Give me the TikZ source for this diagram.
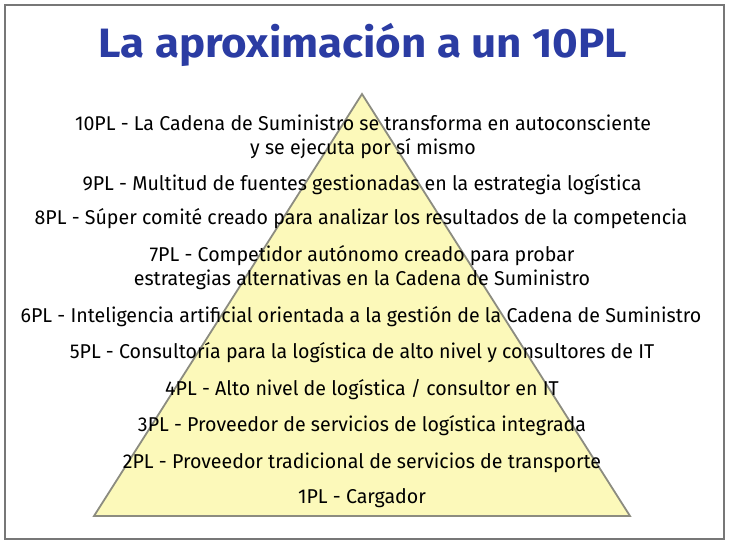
\documentclass[tikz,border=0pt]{standalone}
\usepackage{fontspec}
\usepackage{xcolor}
\setmainfont{Fira Sans}[FakeStretch=0.98]
\newfontfamily\titlefont{Fira Sans}[FakeStretch=1.07,UprightFont=* Bold]
\definecolor{titleblue}{HTML}{2B3CA3}
\definecolor{pyramidfill}{HTML}{FCF9BA}
\definecolor{pyramidline}{HTML}{8C8C80}
\definecolor{framegray}{HTML}{777777}

\tikzset{
  level/.style = {align = center, inner sep = 0pt, font = \fontsize{20}{24}\selectfont},
}

\begin{document}
\begin{tikzpicture}
        \useasboundingbox (0pt, 0pt) rectangle (731pt, -547pt);

        % Frame
        \draw [framegray, line width = 2.5pt] (5pt, -5pt) rectangle (724pt, -539pt);

        % Title
        \node [titleblue, font = \titlefont\fontsize{41}{48}\selectfont, inner sep = 0pt, anchor = base] (title) at (363pt, -57pt) {La aproximación a un 10PL};

        % Pyramid
        \coordinate (apex) at (362pt, -94pt);
        \coordinate (left) at (94pt, -516pt);
        \coordinate (right) at (630pt, -516pt);
        \draw [pyramidline, fill = pyramidfill, line width = 1.8pt] (apex) -- (right) -- (left) -- cycle;

        % Levels
        \node [level] (l10) at (363pt, -137pt) {10PL - La Cadena de Suministro se transforma en autoconsciente\\ y se ejecuta por sí mismo};
        \node [level] (l9) at (362pt, -185pt) {9PL - Multitud de fuentes gestionadas en la estrategia logística};
        \node [level] (l8) at (361pt, -219pt) {8PL - Súper comité creado para analizar los resultados de la competencia};
        \node [level] (l7) at (362pt, -268pt) {7PL - Competidor autónomo creado para probar\\ estrategias alternativas en la Cadena de Suministro};
        \node [level] (l6) at (361pt, -317pt) {6PL - Inteligencia artificial orientada a la gestión de la Cadena de Suministro};
        \node [level] (l5) at (362pt, -353pt) {5PL - Consultoría para la logística de alto nivel y consultores de IT};
        \node [level] (l4) at (362pt, -390pt) {4PL - Alto nivel de logística / consultor en IT};
        \node [level] (l3) at (362pt, -426pt) {3PL - Proveedor de servicios de logística integrada};
        \node [level] (l2) at (362pt, -463pt) {2PL - Proveedor tradicional de servicios de transporte};
        \node [level] (l1) at (362pt, -498pt) {1PL - Cargador};

    \end{tikzpicture}
\end{document}
